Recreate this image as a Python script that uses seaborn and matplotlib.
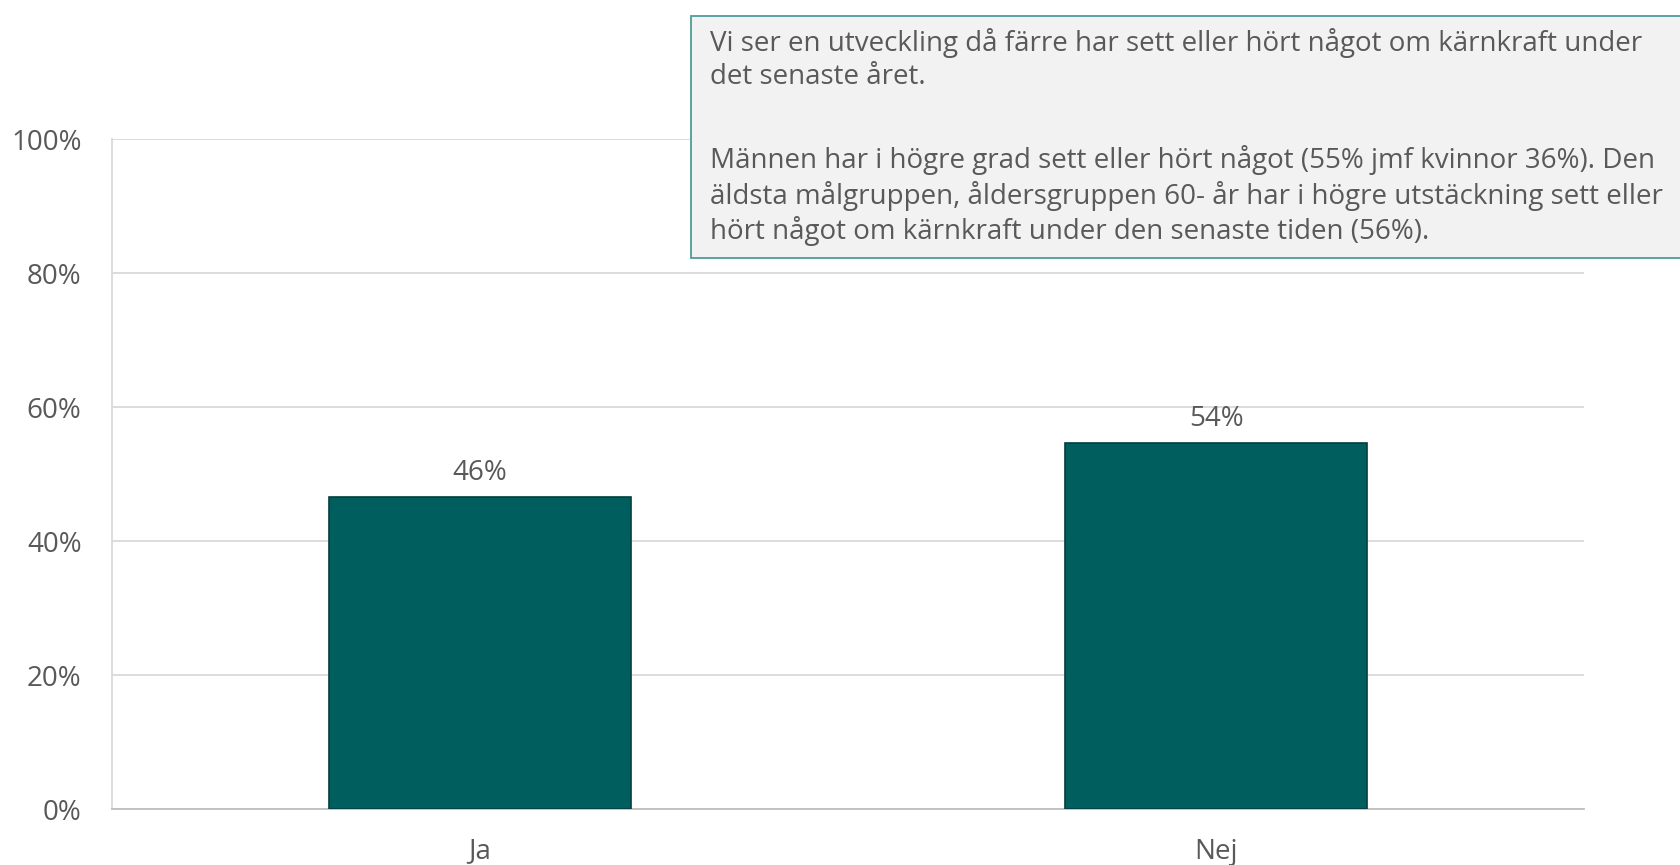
"""
Kärnkraft - har du sett eller hört något? Stapeldiagram Ja/Nej
"""

import matplotlib
matplotlib.use("Agg")
import matplotlib.pyplot as plt
from matplotlib.patches import Rectangle
from matplotlib.ticker import PercentFormatter
import seaborn as sns

# data
categories = ["Ja", "Nej"]
share = [0.466, 0.546]
value_labels = ["46%", "54%"]
y_ticks = [0, 0.2, 0.4, 0.6, 0.8, 1.0]

comment_para1 = [
    "Vi ser en utveckling då färre har sett eller hört något om kärnkraft under",
    "det senaste året.",
]
comment_para2 = [
    "Männen har i högre grad sett eller hört något (55% jmf kvinnor 36%). Den",
    "äldsta målgruppen, åldersgruppen 60- år har i högre utstäckning sett eller",
    "hört något om kärnkraft under den senaste tiden (56%).",
]

BAR = "#005f5e"
TEXT = "#595959"
GRID = "#d9d9d9"

sns.set_style("white")
plt.rcParams["font.family"] = ["Open Sans", "DejaVu Sans"]

fig = plt.figure(figsize=(16.8, 8.65), dpi=100)
ax = fig.add_axes([0.0667, 0.0647, 0.8762, 0.7746])

sns.barplot(x=categories, y=share, color=BAR, width=0.41, saturation=1,
            edgecolor="#003f3e", linewidth=1.2, ax=ax, zorder=3)

for cont in ax.containers:
    ax.bar_label(cont, labels=value_labels, padding=7, fontsize=20, color=TEXT)

# y axis
ax.set_ylim(0, 1.0)
ax.set_yticks(y_ticks)
ax.yaxis.set_major_formatter(PercentFormatter(1.0, decimals=0))
ax.yaxis.grid(True, color=GRID, linewidth=1.3, zorder=0)
ax.tick_params(axis="y", length=7, width=1.3, color=GRID, pad=15,
               labelsize=20, labelcolor=TEXT)

# x axis: ticks between categories, labels in the middle
ax.set_xlim(-0.5, 1.5)
ax.set_xticks([-0.5, 0.5, 1.5])
ax.set_xticklabels(["", "", ""])
ax.set_xticks([0, 1], minor=True)
ax.set_xticklabels(categories, minor=True)
ax.tick_params(axis="x", which="major", length=7, width=1.3, color="#bfbfbf")
ax.tick_params(axis="x", which="minor", length=0, pad=20.5,
               labelsize=20, labelcolor=TEXT)
ax.set_xlabel("")
ax.set_ylabel("")

for side in ["top", "right"]:
    ax.spines[side].set_visible(False)
ax.spines["left"].set_color(GRID)
ax.spines["left"].set_linewidth(1.3)
ax.spines["bottom"].set_color("#bfbfbf")
ax.spines["bottom"].set_linewidth(1.3)

# comment box in upper right
box = Rectangle((0.4113, 0.7017), 0.6, 0.2798, transform=fig.transFigure,
                facecolor="#f2f2f2", edgecolor="#4f9c9a", linewidth=1.3,
                zorder=5)
fig.add_artist(box)
fig.text(0.4226, 0.968, "\n".join(comment_para1), ha="left", va="top",
         fontsize=20, color=TEXT, linespacing=1.23, zorder=6)
fig.text(0.4226, 0.832, "\n".join(comment_para2), ha="left", va="top",
         fontsize=20, color=TEXT, linespacing=1.23, zorder=6)

fig.savefig("out.png", dpi=100)
plt.close(fig)
